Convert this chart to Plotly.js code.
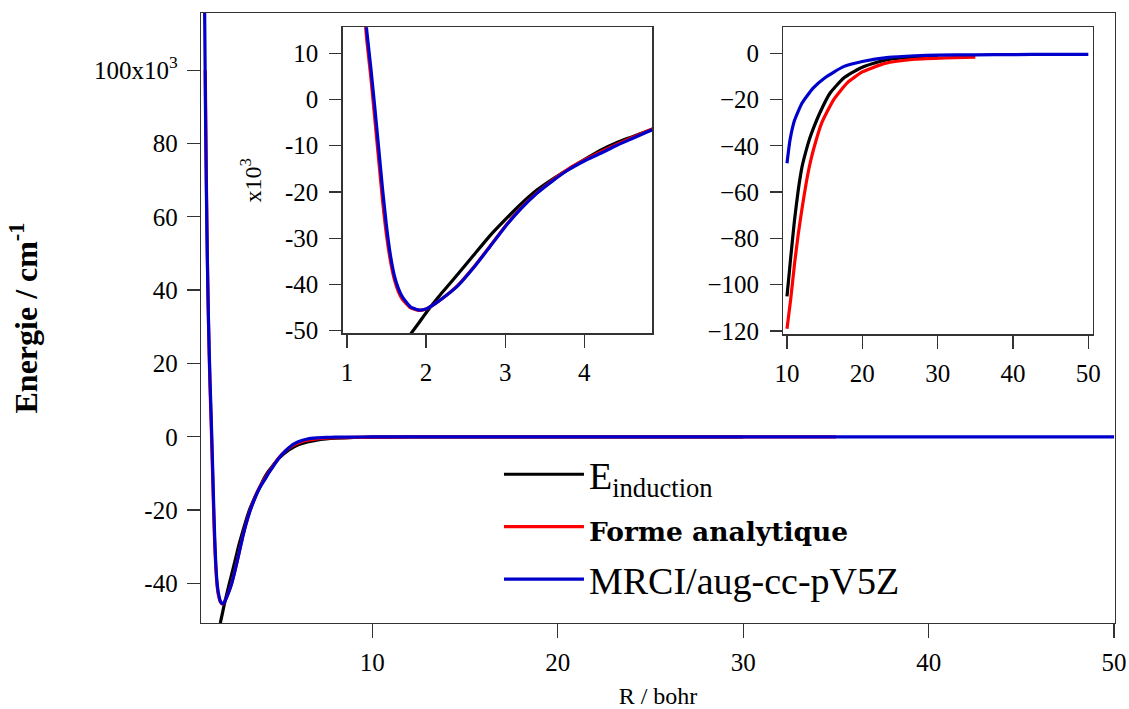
<!DOCTYPE html>
<html>
<head>
<meta charset="utf-8">
<script src="https://cdn.plot.ly/plotly-3.0.1.min.js"></script>
<style>html,body{margin:0;padding:0;background:#fff;}#chart{width:1129px;height:709px;}</style>
</head>
<body>
<div id="chart"></div>
<script>
// ---- Data (R in bohr, energies in cm^-1) ----
const seriesNames = ['E<sub>induction</sub>',
  '<span style="font-family:\'DejaVu Serif\';font-size:26.5px;font-weight:bold">Forme analytique</span>',
  'MRCI/aug-cc-pV5Z'];

const R_induction = [1.80, 1.90, 2.00, 2.20, 2.40, 2.60, 2.80, 3.00, 3.20, 3.40, 3.60, 3.80, 4.00, 4.20, 4.40, 4.60, 4.80,
  5.00, 5.50, 6.00, 6.50, 7.00, 7.50, 8.00, 9.00,
  10.0, 10.5, 11.0, 11.5, 12.0, 12.5, 13.0, 13.5, 14.4, 15.7, 17.5, 19.7, 22.3, 24.1, 27.0, 30.0];
const E_induction = [-50800, -48500, -46100, -41800, -37800, -33700, -29600, -26000, -22600, -19600, -17200, -15100, -13000, -11000, -9400, -8100, -6800,
  -5700, -3600, -2200, -1400, -900, -600, -400, -200,
  -105, -88, -72, -59, -49, -42.5, -37, -32.5, -25.5, -17.3, -10.8, -6.5, -3.6, -2.4, -1.7, -1.4];

const R_analytique = [0.99, 1.05, 1.10, 1.15, 1.20, 1.25, 1.30, 1.35, 1.40, 1.45, 1.50, 1.55, 1.60, 1.65, 1.70, 1.80, 1.90, 2.00, 2.10, 2.20,
  2.40, 2.60, 2.80, 3.00, 3.20, 3.40, 3.60, 3.80, 4.00, 4.20, 4.40, 4.60, 4.80,
  5.00, 5.50, 6.00, 6.50, 7.00, 7.50, 8.00, 9.00,
  10.0, 10.5, 11.0, 11.5, 12.0, 12.5, 13.0, 13.5, 14.6, 16.2, 18.0, 20.0, 23.0, 27.0, 31.0, 35.0];
const E_analytique = [100000, 70000, 50000, 35000, 22500, 12800, 5000, -4000, -13000, -22000, -29500, -35000, -39000, -41600, -43200, -45000, -45600, -45300, -44300, -43100,
  -40200, -36300, -31900, -27400, -23500, -20200, -17400, -15000, -13100, -11400, -9800, -8300, -6800,
  -5500, -3100, -1700, -950, -560, -370, -270, -170,
  -119, -106, -91, -78, -67, -57, -48.5, -41.8, -30.2, -20, -12.8, -8.1, -4.4, -2.6, -2.0, -1.7];

const R_mrci = [0.95, 1.00, 1.05, 1.10, 1.15, 1.20, 1.25, 1.30, 1.35, 1.40, 1.45, 1.50, 1.55, 1.60, 1.65, 1.70, 1.80, 1.90, 2.00, 2.10, 2.20,
  2.40, 2.60, 2.80, 3.00, 3.20, 3.40, 3.60, 3.80, 4.00, 4.20, 4.40, 4.60, 4.80,
  5.00, 5.25, 5.50, 5.75, 6.00, 6.50, 7.00, 7.50, 8.00, 9.00,
  10.0, 10.4, 11.0, 12.0, 13.5, 15.0, 17.5, 20.0, 23.5, 27.0, 30.0, 35.0, 40.0, 45.0, 50.0];
const E_mrci = [120000, 90000, 67000, 49000, 35000, 24000, 14800, 7000, -1500, -10500, -19500, -27500, -33800, -38200, -40900, -42700, -44800, -45500, -45300, -44300, -43100,
  -40300, -36400, -32000, -27500, -23600, -20300, -17600, -15200, -13300, -11700, -10000, -8500, -7000,
  -5600, -4200, -3000, -2000, -1350, -600, -300, -170, -110, -70,
  -47.5, -37.5, -29, -21.5, -15, -10.7, -5.8, -3.6, -1.8, -1.1, -0.8, -0.7, -0.6, -0.5, -0.5];

// ---- Tick values / labels ----
const mainXTicks = [10, 20, 30, 40, 50];
const mainYTicks = [-40000, -20000, 0, 20000, 40000, 60000, 80000, 100000];
const mainYLabels = ['-40', '-20', '0', '20', '40', '60', '80', '100x10<sup>3</sup>'];
const inset1XTicks = [1, 2, 3, 4];
const inset1YTicks = [-50000, -40000, -30000, -20000, -10000, 0, 10000];
const inset1YLabels = ['-50', '-40', '-30', '-20', '-10', '0', '10'];
const inset2XTicks = [10, 20, 30, 40, 50];
const inset2YTicks = [-120, -100, -80, -60, -40, -20, 0];
const inset2StartR = 10;

const colors = ['#000000', '#ff0000', '#0000cc'];
const Rs = [R_induction, R_analytique, R_mrci];
const Es = [E_induction, E_analytique, E_mrci];

function subset(i, minR) {
  const xs = [], ys = [];
  Rs[i].forEach((r, j) => { if (r >= minR) { xs.push(r); ys.push(Es[i][j]); } });
  return [xs, ys];
}

const traces = [];
const axesPairs = [['x', 'y'], ['x2', 'y2'], ['x3', 'y3']];
axesPairs.forEach((ax, k) => {
  for (let i = 0; i < 3; i++) {
    const d = k === 2 ? subset(i, inset2StartR) : [Rs[i], Es[i]];
    traces.push({
      x: d[0], y: d[1], xaxis: ax[0], yaxis: ax[1],
      type: 'scatter', mode: 'lines',
      line: {color: colors[i], width: 3.2, shape: 'spline', smoothing: 0.5},
      name: seriesNames[i], showlegend: k === 0, hoverinfo: 'skip'
    });
  }
});

const axisCommon = {
  showline: true, linecolor: '#333', linewidth: 1.3, mirror: true,
  ticks: 'outside', tickcolor: '#333', tickwidth: 1.3,
  showgrid: false, zeroline: false,
  tickfont: {family: 'Liberation Serif', size: 25, color: '#000'}
};

const layout = {
  width: 1129, height: 709, autosize: false,
  margin: {l: 201, r: 14, t: 13, b: 86},
  paper_bgcolor: '#fff', plot_bgcolor: 'rgba(0,0,0,0)',
  font: {family: 'Liberation Serif', color: '#000'},
  showlegend: true,
  legend: {
    x: 0.326, y: 0.295, xanchor: 'left', yanchor: 'top',
    bgcolor: 'rgba(0,0,0,0)', borderwidth: 0,
    font: {family: 'Liberation Serif', size: 38, color: '#000'},
    itemwidth: 80, tracegroupgap: 0
  },
  xaxis: Object.assign({}, axisCommon, {
    domain: [0, 1], range: [0.76, 50.05], tickvals: mainXTicks, ticklen: 14,
    ticklabelstandoff: 3,
    title: {text: 'R / bohr', font: {family: 'Liberation Serif', size: 24, color: '#000'}, standoff: 14}
  }),
  yaxis: Object.assign({}, axisCommon, {
    domain: [0, 1], range: [-50800, 115600], tickvals: mainYTicks, ticktext: mainYLabels, ticklen: 13,
    ticklabelstandoff: 4,
    title: {text: '<b>Energie / cm<sup>-1</sup></b>', font: {family: 'Liberation Serif', size: 32, color: '#000'}, standoff: 46}
  }),
  xaxis2: Object.assign({}, axisCommon, {
    domain: [0.155, 0.4938], anchor: 'y2', range: [0.945, 4.86], tickvals: inset1XTicks, ticklen: 13,
    ticklabelstandoff: 3
  }),
  yaxis2: Object.assign({}, axisCommon, {
    domain: [0.4749, 0.9766], anchor: 'x2', range: [-50560, 15600], tickvals: inset1YTicks, ticktext: inset1YLabels, ticklen: 12,
    ticklabelstandoff: 6,
    title: {text: 'x10<sup>3</sup>', font: {family: 'Liberation Serif', size: 24, color: '#000'}, standoff: 16}
  }),
  xaxis3: Object.assign({}, axisCommon, {
    domain: [0.6371, 0.9756], anchor: 'y3', range: [9.51, 50.58], tickvals: inset2XTicks, ticklen: 13,
    ticklabelstandoff: 3
  }),
  yaxis3: Object.assign({}, axisCommon, {
    domain: [0.4733, 0.9766], anchor: 'x3', range: [-121.4, 11.2], tickvals: inset2YTicks, ticklen: 12,
    ticklabelstandoff: 6
  })
};

Plotly.newPlot('chart', traces, layout, {staticPlot: true, displayModeBar: false});
</script>
</body>
</html>
